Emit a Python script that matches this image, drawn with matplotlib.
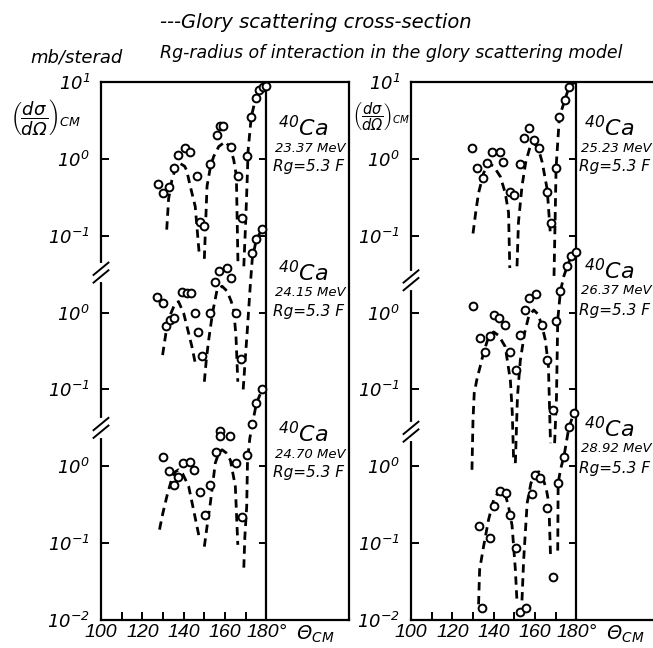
import matplotlib
matplotlib.use("Agg")
import matplotlib.pyplot as plt
from matplotlib.ticker import NullLocator
from matplotlib.transforms import blended_transform_factory

plt.rcParams['font.family'] = ['DejaVu Sans']
plt.rcParams['font.style'] = 'italic'
plt.rcParams['mathtext.fontset'] = 'custom'
plt.rcParams['mathtext.rm'] = 'DejaVu Sans:italic'
plt.rcParams['mathtext.it'] = 'DejaVu Sans:italic'
plt.rcParams['mathtext.default'] = 'rm'

# ---- measured points (theta in deg, cross-section in mb/sr) ----
# left panel, top: 23.37 MeV
theta_a = [127.7, 130.0, 132.9, 135.1, 137.5, 140.8, 143.2, 146.4, 147.8, 150.0, 152.9, 156.2,
           157.8, 159.2, 163.0, 166.2, 168.3, 170.7, 172.7, 174.8, 176.4, 178.5, 179.8]
sigma_a = [0.47, 0.36, 0.43, 0.76, 1.12, 1.37, 1.24, 0.59, 0.15, 0.135, 0.87, 2.04,
           2.68, 2.68, 1.44, 0.60, 0.17, 1.10, 3.5, 6.1, 7.9, 8.5, 8.9]
# left panel, middle: 24.15 MeV
theta_b = [127.0, 129.8, 131.4, 133.5, 135.4, 139.2, 141.6, 143.5, 145.6, 146.7, 149.0, 152.6,
           155.3, 157.0, 161.0, 162.9, 165.2, 167.8, 173.2, 175.2, 178.0]
sigma_b = [1.58, 1.32, 0.67, 0.80, 0.85, 1.86, 1.78, 1.78, 1.0, 0.56, 0.27, 1.0,
           2.5, 3.5, 3.8, 2.85, 1.0, 0.25, 6.0, 9.0, 12.2]
# left panel, bottom: 24.70 MeV
theta_c = [130.0, 133.0, 135.1, 137.5, 139.6, 142.9, 145.1, 147.7, 150.5, 152.9, 155.8, 157.8,
           157.8, 162.6, 165.2, 168.3, 170.7, 173.2, 175.2, 178.0]
sigma_c = [1.34, 0.86, 0.57, 0.72, 1.1, 1.13, 0.9, 0.46, 0.23, 0.57, 1.53, 2.84,
           2.5, 2.5, 1.1, 0.22, 1.41, 3.5, 6.6, 10.0]
# right panel, top: 25.23 MeV
theta_d = [129.5, 131.9, 134.6, 136.7, 139.2, 142.9, 144.5, 147.7, 150.0, 152.6, 154.5, 156.9,
           159.4, 162.1, 165.9, 167.5, 170.2, 171.8, 174.4, 176.4]
sigma_d = [1.37, 0.76, 0.56, 0.88, 1.24, 1.24, 0.9, 0.37, 0.34, 0.85, 1.86, 2.55,
           1.76, 1.4, 0.37, 0.145, 0.77, 3.5, 5.8, 8.5]
# right panel, middle: 26.37 MeV
theta_e = [130.0, 133.2, 135.6, 138.0, 140.0, 142.7, 145.3, 148.1, 150.8, 152.9, 155.3, 157.3,
           160.5, 163.4, 165.9, 168.6, 170.4, 172.3, 175.6, 177.5, 179.6]
sigma_e = [1.22, 0.47, 0.31, 0.49, 0.93, 0.85, 0.69, 0.31, 0.18, 0.51, 1.08, 1.55,
           1.74, 0.69, 0.24, 0.054, 0.78, 1.9, 4.0, 5.4, 6.2]
# right panel, bottom: 28.92 MeV
theta_f = [132.7, 134.3, 138.3, 140.3, 142.9, 146.0, 148.1, 151.0, 152.9, 155.8, 158.6, 160.2,
           162.6, 165.9, 168.6, 171.2, 174.0, 176.4, 178.8]
sigma_f = [0.166, 0.0145, 0.115, 0.30, 0.48, 0.45, 0.23, 0.087, 0.0126, 0.0145, 0.43, 0.76,
           0.71, 0.29, 0.036, 0.6, 1.34, 3.2, 4.9]

# ---- glory model curves (dashed), one list per lobe ----
curve_a_theta = [[131.8, 132.7, 134.3, 136.0, 138.3, 140.5, 141.5, 143.2, 145.6, 147.6],
                 [150.0, 151.3, 153.0, 154.5, 157.0, 160.2, 162.5, 164.2, 165.5, 166.3],
                 [169.1, 170.0, 170.7, 171.2, 172.7, 174.8, 176.4, 178.5, 180.0]]
curve_a_sigma = [[0.12, 0.3, 0.53, 0.75, 0.87, 0.8, 0.7, 0.44, 0.24, 0.055],
                 [0.05, 0.44, 0.8, 1.07, 1.45, 1.67, 1.4, 0.98, 0.6, 0.04],
                 [0.04, 0.15, 0.5, 1.3, 3.5, 6.1, 7.9, 8.5, 9.0]]
curve_b_theta = [[129.8, 131.4, 133.5, 135.5, 137.5, 140.0, 141.6, 144.0, 145.6, 146.2],
                 [150.0, 151.0, 152.1, 154.0, 156.2, 158.6, 161.0, 163.0, 164.2, 165.3, 166.2],
                 [168.8, 169.8, 170.7, 172.3, 173.2, 175.2, 178.0, 180.0]]
curve_b_sigma = [[0.28, 0.54, 0.93, 1.25, 1.39, 0.98, 0.66, 0.36, 0.22, 0.2],
                 [0.126, 0.25, 0.44, 1.0, 2.0, 2.2, 1.9, 1.4, 1.08, 0.5, 0.126],
                 [0.1, 0.25, 0.54, 2.4, 5.0, 9.0, 12.2, 13.0]]
curve_c_theta = [[128.3, 130.0, 132.0, 134.0, 136.0, 137.5, 139.5, 142.4, 144.8, 147.5],
                 [150.0, 151.5, 152.9, 155.3, 157.0, 158.6, 160.5, 162.6, 165.0, 166.2],
                 [169.1, 169.6, 170.5, 170.9, 172.0, 173.2, 175.2, 178.0, 180.0]]
curve_c_sigma = [[0.15, 0.25, 0.42, 0.65, 0.85, 0.9, 0.8, 0.55, 0.27, 0.12],
                 [0.09, 0.18, 0.33, 1.1, 1.5, 1.64, 1.5, 1.2, 0.55, 0.095],
                 [0.048, 0.12, 0.3, 1.2, 2.3, 3.5, 6.6, 10.0, 11.0]]
curve_d_theta = [[130.0, 131.5, 132.7, 135.1, 137.5, 140.0, 143.2, 145.6, 147.2, 147.8],
                 [151.3, 152.0, 153.7, 155.5, 157.5, 159.4, 161.5, 163.5, 165.9, 167.5],
                 [169.2, 169.8, 170.2, 171.8, 174.4, 176.4, 178.0, 179.5]]
curve_d_sigma = [[0.107, 0.22, 0.36, 0.65, 0.88, 0.8, 0.59, 0.36, 0.2, 0.038],
                 [0.04, 0.15, 0.44, 0.9, 1.4, 1.6, 1.4, 0.9, 0.4, 0.1],
                 [0.03, 0.2, 0.77, 3.5, 5.8, 8.5, 9.5, 9.8]]
curve_e_theta = [[129.5, 130.0, 130.6, 132.0, 133.5, 135.1, 137.5, 140.0, 142.5, 145.6, 148.1, 149.0, 149.7],
                 [150.5, 151.5, 152.9, 155.0, 157.0, 159.4, 161.5, 163.5, 165.0, 166.5, 167.5],
                 [169.5, 170.4, 171.0, 172.3, 174.0, 175.6, 177.5, 179.6]]
curve_e_sigma = [[0.009, 0.04, 0.09, 0.14, 0.2, 0.3, 0.48, 0.56, 0.5, 0.36, 0.13, 0.05, 0.011],
                 [0.011, 0.08, 0.24, 0.55, 0.9, 1.08, 0.95, 0.65, 0.44, 0.2, 0.02],
                 [0.02, 0.08, 0.8, 1.9, 3.0, 4.0, 5.4, 6.2]]
curve_f_theta = [[132.7, 133.2, 135.1, 137.5, 140.0, 143.2, 145.5, 147.2, 148.9, 150.5, 151.3],
                 [153.7, 154.5, 156.2, 158.0, 160.0, 161.8, 163.5, 165.5, 166.7, 167.5],
                 [171.0, 171.2, 172.3, 174.0, 176.4, 178.8, 180.0]]
curve_f_sigma = [[0.016, 0.045, 0.09, 0.2, 0.37, 0.5, 0.44, 0.30, 0.17, 0.045, 0.017],
                 [0.018, 0.06, 0.33, 0.6, 0.8, 0.85, 0.75, 0.5, 0.33, 0.07],
                 [0.08, 0.6, 0.9, 1.34, 3.2, 4.9, 5.5]]

# each stacked set is shifted by a power of ten on the common log axis
shift = [1e4, 1e2, 1.0]
ytick_vals = [1e5, 1e4, 1e3, 1e2, 1e1, 1.0, 1e-1, 1e-2]
ytick_text = [r'$10^{1}$', r'$10^{0}$', r'$10^{-1}$', r'$10^{0}$', r'$10^{-1}$',
              r'$10^{0}$', r'$10^{-1}$', r'$10^{-2}$']
xtick_vals = [100, 110, 120, 130, 140, 150, 160, 170, 180]
xtick_text = ['100', '', '120', '', '140', '', '160', '', '180°']

left_sets = [(theta_a, sigma_a, curve_a_theta, curve_a_sigma),
             (theta_b, sigma_b, curve_b_theta, curve_b_sigma),
             (theta_c, sigma_c, curve_c_theta, curve_c_sigma)]
right_sets = [(theta_d, sigma_d, curve_d_theta, curve_d_sigma),
              (theta_e, sigma_e, curve_e_theta, curve_e_sigma),
              (theta_f, sigma_f, curve_f_theta, curve_f_sigma)]

W, H = 653, 648
fig = plt.figure(figsize=(W / 100, H / 100), dpi=100)


def fx(px):
    return px / W


def fy(py):
    return 1 - py / H


def panel(ax, sets, breaks):
    for (th, sg, cth, csg), k in zip(sets, shift):
        for bt, bs in zip(cth, csg):
            ax.plot(bt, [s * k for s in bs], color='k', lw=2.0, ls=(0, (3.0, 2.0)),
                    solid_capstyle='butt')
        ax.plot(th, [s * k for s in sg], 'o', ms=5.6, mfc='white', mec='k', mew=1.4, zorder=4)

    ax.set_yscale('log')
    ax.set_xlim(100, 220)
    ax.set_ylim(1e-2, 1e5)
    ax.axvline(180, color='k', lw=1.6)
    ax.hlines(ytick_vals[1:-1], 176.6, 180, color='k', lw=1.4)

    ax.set_yticks(ytick_vals)
    ax.set_yticklabels(ytick_text)
    ax.yaxis.set_minor_locator(NullLocator())
    ax.set_xticks(xtick_vals)
    ax.set_xticklabels(xtick_text, family='Liberation Sans', style='italic', fontsize=14)
    ax.tick_params(axis='y', direction='in', length=6, width=1.4, labelsize=13, pad=8)
    ax.tick_params(axis='x', direction='in', length=6, width=1.4, pad=3)
    for sp in ax.spines.values():
        sp.set_linewidth(1.6)

    # axis break marks on the left spine
    tr = blended_transform_factory(ax.transAxes, ax.transData)
    for b in breaks:
        ax.plot([0, 0], [10 ** (b - 0.1), 10 ** (b + 0.1)], color='white', lw=3,
                transform=tr, clip_on=False, zorder=5)
        for d in (-0.05, 0.05):
            ax.plot([-0.03, 0.03], [10 ** (b + d - 0.08), 10 ** (b + d + 0.08)], color='k',
                    lw=1.4, transform=tr, clip_on=False, zorder=6)


ax1 = fig.add_axes([fx(101), fy(620), fx(248), 538 / H])
ax2 = fig.add_axes([fx(411), fy(620), fx(248), 538 / H])
panel(ax1, left_sets, [2.52, 0.5])
panel(ax2, right_sets, [2.42, 0.45])

# headers
fig.text(fx(160), fy(23), '---Glory scattering cross-section', fontsize=14, va='center')
fig.text(fx(160), fy(53), 'Rg-radius of interaction in the glory scattering model',
         fontsize=12.5, va='center')
fig.text(fx(30), fy(57), 'mb/sterad', fontsize=13, va='center')
fig.text(fx(46), fy(117), r'$\left(\dfrac{d\sigma}{d\Omega}\right)_{CM}$', fontsize=13,
         ha='center', va='center')
fig.text(fx(381), fy(117), r'$\left(\dfrac{d\sigma}{d\Omega}\right)_{CM}$', fontsize=10.5,
         ha='center', va='center')
fig.text(fx(296), fy(634), r'$\Theta_{CM}$', fontsize=14, va='center')
fig.text(fx(606), fy(634), r'$\Theta_{CM}$', fontsize=14, va='center')

# set labels
energies = [('23.37 MeV', 275, 128), ('24.15 MeV', 275, 273), ('24.70 MeV', 275, 434),
            ('25.23 MeV', 581, 128), ('26.37 MeV', 581, 271), ('28.92 MeV', 581, 429)]
for e, px, py in energies:
    fig.text(fx(px + 3), fy(py), r'$^{40}$Ca', fontsize=16, va='center')
    fig.text(fx(px), fy(py + 20), e, fontsize=9.5, va='center')
    fig.text(fx(px - 2), fy(py + 39), 'Rg=5.3 F', fontsize=11, va='center')

fig.savefig('out.png', dpi=100)
